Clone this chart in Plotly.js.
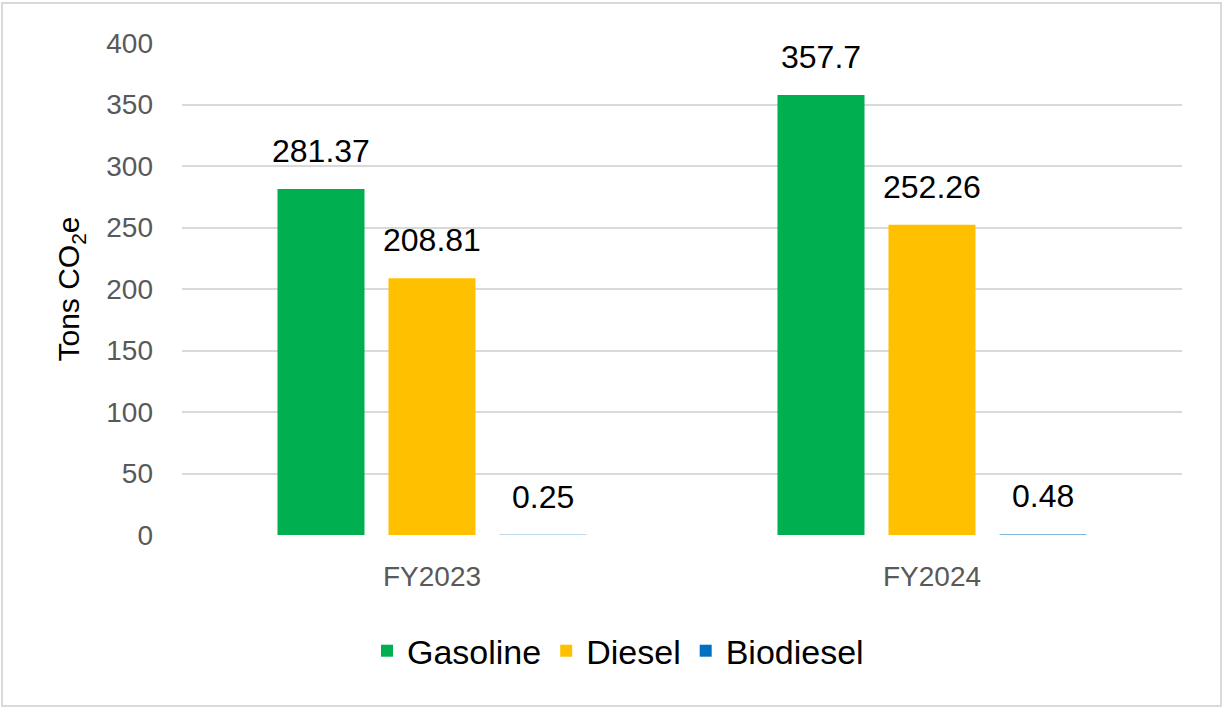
<!DOCTYPE html>
<html>
<head>
<meta charset="utf-8">
<script src="https://cdn.plot.ly/plotly-3.0.1.min.js"></script>
<style>
  html, body { margin: 0; padding: 0; background: #ffffff; }
  #chart { width: 1225px; height: 708px; }
</style>
</head>
<body>
<div id="chart"></div>
<script>
const categories = ["FY2023", "FY2024"];
const seriesNames = ["Gasoline", "Diesel", "Biodiesel"];
const gasoline = [281.37, 357.7];
const diesel = [208.81, 252.26];
const biodiesel = [0.25, 0.48];
const seriesValues = [gasoline, diesel, biodiesel];
const seriesColors = ["#00B050", "#FFC000", "#0070C0"];
const yTickVals = [0, 50, 100, 150, 200, 250, 300, 350, 400];

const FONT = "Liberation Sans, Arial, sans-serif";

const traces = seriesNames.map((name, i) => ({
  type: "bar",
  name: name,
  x: categories,
  y: seriesValues[i],
  marker: { color: seriesColors[i], line: { width: 0 } },
  hoverinfo: "x+y+name"
}));

// data labels placed above each bar through the axis scales
const slotShift = [-111, 0, 111];
const annotations = [];
seriesValues.forEach((vals, i) => {
  vals.forEach((v, j) => {
    annotations.push({
      x: categories[j], y: v, xref: "x", yref: "y",
      text: String(v), showarrow: false,
      xanchor: "center", yanchor: "bottom",
      xshift: slotShift[i], yshift: 18,
      font: { family: FONT, size: 32, color: "#000000" }
    });
  });
});

const layout = {
  width: 1225, height: 708,
  margin: { l: 182, r: 43, t: 43, b: 173 },
  paper_bgcolor: "#ffffff", plot_bgcolor: "#ffffff",
  barmode: "group",
  bargap: 0.334,
  bargroupgap: 0.216,
  showlegend: true,
  legend: {
    orientation: "h", x: 0.436, xanchor: "center", y: -0.236, yanchor: "middle",
    font: { family: FONT, size: 34, color: "#000000" },
    traceorder: "normal"
  },
  xaxis: {
    type: "category",
    showgrid: false, zeroline: false, showline: false, ticks: "",
    ticklabelstandoff: 22,
    tickfont: { family: FONT, size: 28, color: "#595959" }
  },
  yaxis: {
    range: [0, 400], tickvals: yTickVals, ticktext: yTickVals.map(String),
    showgrid: true, gridcolor: "#d9d9d9", gridwidth: 2,
    zeroline: false, showline: false, ticks: "",
    ticklabelstandoff: 28,
    tickfont: { family: FONT, size: 28, color: "#595959" },
    title: { text: "Tons CO<sub>2</sub>e", standoff: 17, font: { family: FONT, size: 30, color: "#000000" } }
  },
  annotations: annotations,
  shapes: [{
    type: "rect", xref: "paper", yref: "paper",
    x0: -0.18, x1: 1.039, y0: -0.3476, y1: 1.0813,
    line: { color: "#d9d9d9", width: 2 }, fillcolor: "rgba(0,0,0,0)", layer: "below"
  }]
};

Plotly.newPlot("chart", traces, layout, { displayModeBar: false, staticPlot: true });
</script>
</body>
</html>
